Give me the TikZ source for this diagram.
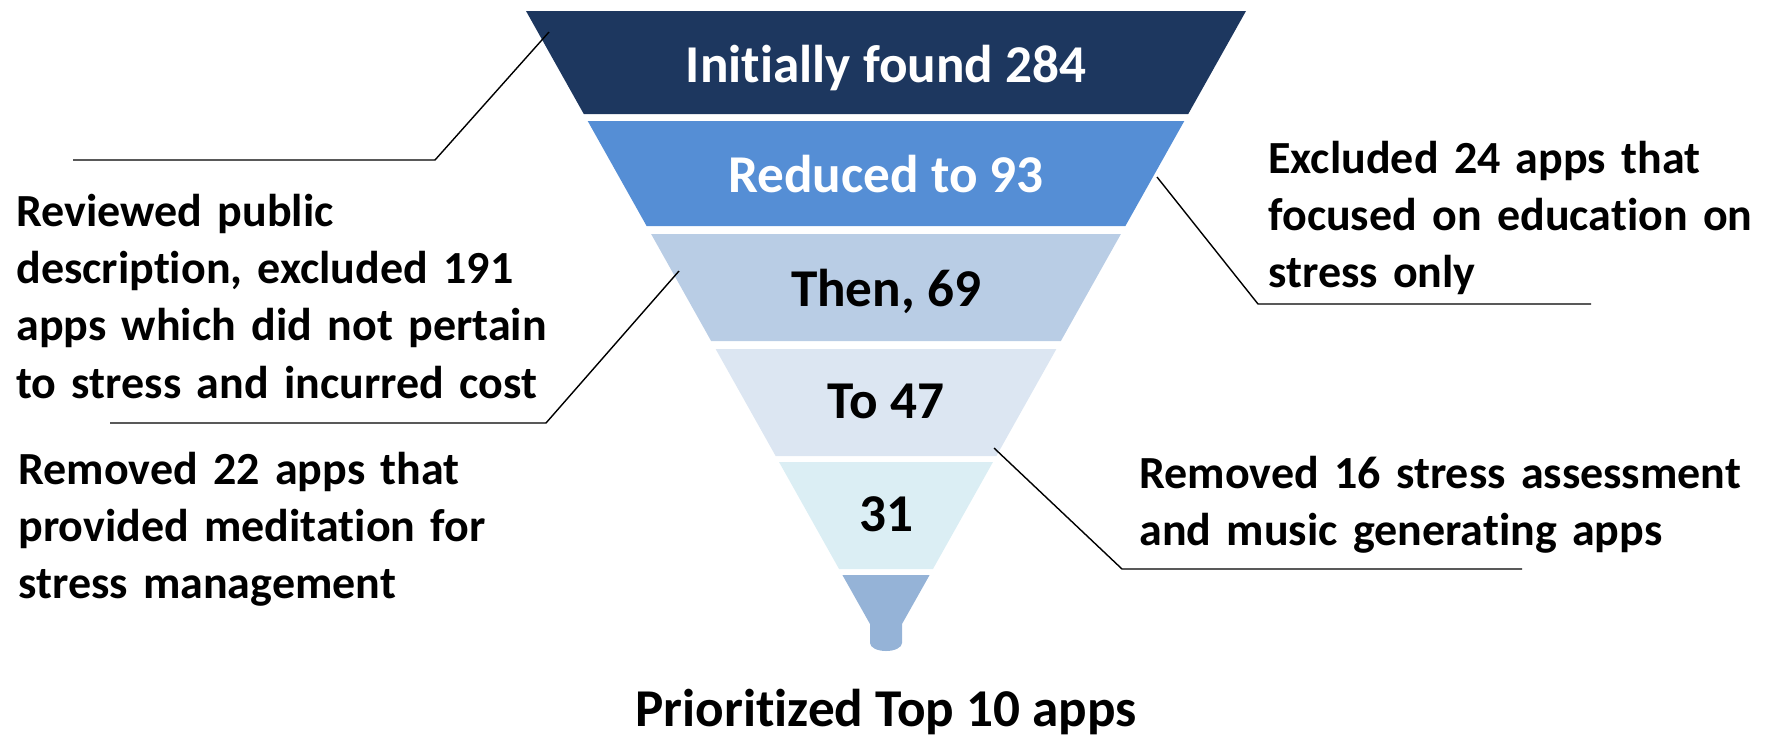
\documentclass[tikz,border=0pt]{standalone}
\usepackage{fontspec}
\setmainfont{Carlito}[Ligatures=NoCommon]
\usetikzlibrary{calc}

\definecolor{bandA}{RGB}{29,55,95}
\definecolor{bandB}{RGB}{85,142,213}
\definecolor{bandC}{RGB}{185,205,229}
\definecolor{bandD}{RGB}{220,230,242}
\definecolor{bandE}{RGB}{219,238,244}
\definecolor{bandF}{RGB}{149,179,215}

% one trapezoidal slice of the funnel: top y, bottom y, colour
\newcommand\funnelband[3]{%
  \pgfmathsetmacro\fbTop{360-0.561*(#1-11)}%
  \pgfmathsetmacro\fbBot{360-0.561*(#2-11)}%
  \fill[#3] ({886-\fbTop},#1) -- ({886+\fbTop},#1) -- ({886+\fbBot},#2) -- ({886-\fbBot},#2) -- cycle;}

\tikzset{
  bandlabel/.style={anchor=base, inner sep=0pt, font=\fontsize{26.6}{30}\selectfont\bfseries},
  sidetext/.style={anchor=base west, inner sep=0pt, text width=380pt, align=left,
    font=\fontsize{23}{28.7}\selectfont\bfseries},
  leader/.style={draw=black, line width=0.7pt},
}

\begin{document}
\begin{tikzpicture}[x=0.5pt, y=-0.5pt]
  \useasboundingbox (0,0) rectangle (1772,736);

  % funnel slices
  \funnelband{11}{114}{bandA}
  \funnelband{121}{226}{bandB}
  \funnelband{234}{341}{bandC}
  \funnelband{349}{456}{bandD}
  \funnelband{462}{569}{bandE}
  % spout
  \fill[bandF] (842.4,575) -- (929.6,575) -- (902,624) -- (902,643)
     arc[start angle=0, end angle=180, x radius=16, y radius=8] -- (870,624) -- cycle;

  % counts inside the funnel
  \node[bandlabel, text=white] (n284) at (886,82) {Initially found 284};
  \node[bandlabel, text=white] (n93) at (886,192) {Reduced to 93};
  \node[bandlabel] (n69) at (886,306) {Then, 69};
  \node[bandlabel] (n47) at (886,418) {To 47};
  \node[bandlabel] (n31) at (886,531) {31};

  % reasons for each reduction
  \node[sidetext] (r191) at (16,226) {Reviewed public\\description, excluded 191\\apps which did not pertain\\to stress and incurred cost};
  \node[sidetext] (r24) at (1268,173) {Excluded 24 apps that\\focused on education on\\stress only};
  \node[sidetext] (r22) at (18,484) {Removed 22 apps that\\provided meditation for\\stress management};
  \node[sidetext] (r16) at (1139,488) {Removed 16 stress assessment\\and music generating apps};

  \node[bandlabel] (top10) at (886,726) {Prioritized Top 10 apps};

  % leader lines from the slices to their notes
  \coordinate (a1) at (549,32);  \coordinate (a2) at (435,160); \coordinate (a3) at (73,160);
  \coordinate (b1) at (1157,177); \coordinate (b2) at (1258,304); \coordinate (b3) at (1591,304);
  \coordinate (c1) at (679,271); \coordinate (c2) at (546,423); \coordinate (c3) at (110,423);
  \coordinate (d1) at (994,448); \coordinate (d2) at (1122,569); \coordinate (d3) at (1522,569);

  \draw[leader] (a1) -- (a2) -- (a3);
  \draw[leader] (b1) -- (b2) -- (b3);
  \draw[leader] (c1) -- (c2) -- (c3);
  \draw[leader] (d1) -- (d2) -- (d3);
\end{tikzpicture}
\end{document}
